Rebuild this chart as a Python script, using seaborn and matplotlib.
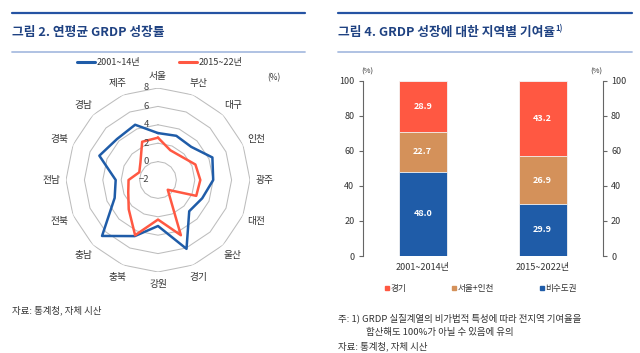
import numpy as np
import pandas as pd
import matplotlib
matplotlib.use('Agg')
import matplotlib.pyplot as plt
import seaborn as sns
from matplotlib.patches import Patch
from matplotlib.lines import Line2D

# ---------------- data ----------------
regions = ['서울', '부산', '대구', '인천', '광주', '대전', '울산', '경기',
           '강원', '충북', '충남', '전북', '전남', '경북', '경남', '제주']
growth_2001_14 = [3.1, 3.2, 3.1, 4.4, 4.0, 3.2, 2.8, 6.1, 3.0, 4.6, 6.6, 3.1, 2.6, 4.9, 4.3, 4.5]
growth_2015_22 = [2.6, 1.5, 1.6, 2.4, 2.6, 2.5, -0.5, 4.5, 2.3, 4.5, 2.5, 1.5, 1.2, 0.2, 0.7, 2.5]
series_names = ['2001~14년', '2015~22년']
radial_ticks = [8, 6, 4, 2, 0, -2]

periods = ['2001~2014년', '2015~2022년']
non_capital = [48.0, 29.9]
seoul_incheon = [22.7, 26.9]
gyeonggi = [28.9, 43.2]
bar_names = ['경기', '서울+인천', '비수도권']
bar_ticks = [0, 20, 40, 60, 80, 100]

# ---------------- style ----------------
sns.set_theme(style='white')
plt.rcParams['font.family'] = ['Noto Sans CJK KR', 'DejaVu Sans']
plt.rcParams['axes.unicode_minus'] = True

BLUE = '#1f5ca8'
RED = '#ff5842'
TAN = '#d4915a'
NAVY = '#1f4282'
TXT = '#333333'

W, H = 640, 353
fig = plt.figure(figsize=(W / 100, H / 100), dpi=100)


def fx(px):
    return px / W


def fy(py):
    return 1 - py / H


# header lines
for x0, x1 in [(12, 305), (338, 632)]:
    fig.add_artist(Line2D([fx(x0), fx(x1)], [fy(12.7), fy(12.7)], color='#2553a3', lw=1.6))
    fig.add_artist(Line2D([fx(x0), fx(x1)], [fy(51.7), fy(51.7)], color='#a9bde0', lw=1.3))

fig.text(fx(12), fy(32.5), '그림 2. 연평균 GRDP 성장률', fontsize=9.2, fontweight='bold',
         color=NAVY, ha='left', va='center')
t4 = fig.text(fx(338), fy(32.5), '그림 4. GRDP 성장에 대한 지역별 기여율', fontsize=9.2,
              fontweight='bold', color=NAVY, ha='left', va='center')

# ---------------- radar ----------------
cx, cy, R = 158, 180, 92
axr = fig.add_axes([fx(cx - R), fy(cy + R), 2 * R / W, 2 * R / H], projection='polar')
axr.set_theta_zero_location('N')
axr.set_theta_direction(-1)
n = len(regions)
theta = np.arange(n) * 2 * np.pi / n
theta_c = np.append(theta, theta[0])
for rv in radial_ticks:
    if rv > -2:
        axr.plot(theta_c, np.full(n + 1, rv), color='#bdbdbd', lw=0.75, zorder=1)

rdf = pd.DataFrame({
    'theta': np.concatenate([theta_c, theta_c]),
    'value': growth_2001_14 + [growth_2001_14[0]] + growth_2015_22 + [growth_2015_22[0]],
    'series': [series_names[0]] * (n + 1) + [series_names[1]] * (n + 1),
})
sns.lineplot(data=rdf, x='theta', y='value', hue='series', sort=False, estimator=None,
             palette=[BLUE, RED], lw=1.8, ax=axr, legend=False, zorder=3)
axr.set_ylim(-2, 8)
axr.grid(False)
axr.set_xticks([])
axr.set_yticks([])
axr.set_xlabel('')
axr.set_ylabel('')
axr.spines['polar'].set_visible(False)
axr.patch.set_alpha(0)

for th, name in zip(theta, regions):
    rr = 9.25 + 0.35 * abs(np.sin(th))
    axr.text(th, rr, name, ha='center', va='center', fontsize=7, color=TXT, clip_on=False)
for rv in radial_ticks:
    axr.annotate(f'{rv}'.replace('-', '−'), xy=(0, rv), xytext=(-6.5, 0), textcoords='offset points',
                 ha='right', va='center', fontsize=6.8, color='#444444', zorder=4)

fig.text(fx(274), fy(78), '(%)', fontsize=6, color=TXT, ha='center', va='center')

leg1 = fig.legend(handles=[Line2D([], [], color=BLUE, lw=2.2), Line2D([], [], color=RED, lw=2.2)],
                  labels=series_names, loc='center', bbox_to_anchor=(fx(160), fy(63)), ncol=2,
                  frameon=False, fontsize=6.5, handlelength=2.0, handletextpad=0.15,
                  columnspacing=4.3, borderpad=0)
for t in leg1.get_texts():
    t.set_color(TXT)

fig.text(fx(12), fy(310), '자료: 통계청, 자체 시산', fontsize=6.8, color=TXT, ha='left', va='center')

# ---------------- stacked bars ----------------
axb = fig.add_axes([fx(362.7), fy(256), 240 / W, (256 - 80.7) / H])
bdf = pd.DataFrame({'period': periods, 'non': non_capital, 'si': seoul_incheon, 'gg': gyeonggi})
bdf['mid'] = bdf['non'] + bdf['si']
bdf['top'] = bdf['mid'] + bdf['gg']
for col, c in [('top', RED), ('mid', TAN), ('non', BLUE)]:
    sns.barplot(data=bdf, x='period', y=col, color=c, width=0.4, saturation=1,
                edgecolor='#f4f4f4', linewidth=0.6, ax=axb)

for i in range(len(periods)):
    bottoms = [0, non_capital[i], non_capital[i] + seoul_incheon[i]]
    vals = [non_capital[i], seoul_incheon[i], gyeonggi[i]]
    for b, v in zip(bottoms, vals):
        axb.text(i, b + v / 2, f'{v:.1f}', ha='center', va='center', color='white',
                 fontsize=6.5, fontweight='bold')

axb.set_xlim(-0.5, 1.5)
axb.set_ylim(0, 100)
axb.set_yticks(bar_ticks)
axb.set_xlabel('')
axb.set_ylabel('')
for s in ['top', 'bottom', 'right']:
    axb.spines[s].set_visible(False)
axb.spines['left'].set_color('#666666')
axb.spines['left'].set_linewidth(0.8)
axb.tick_params(axis='y', left=True, length=3, width=0.8, color='#666666', labelsize=6.5,
                labelcolor=TXT, pad=3)
axb.tick_params(axis='x', length=0, labelsize=6.5, labelcolor=TXT, pad=5)

axb2 = axb.twinx()
axb2.set_ylim(0, 100)
axb2.set_yticks(bar_ticks)
for s in ['top', 'bottom', 'left']:
    axb2.spines[s].set_visible(False)
axb2.spines['right'].set_color('#666666')
axb2.spines['right'].set_linewidth(0.8)
axb2.tick_params(axis='y', right=True, length=3, width=0.8, color='#666666', labelsize=6.5,
                 labelcolor=TXT, pad=3)
axb2.grid(False)
axb.grid(False)

fig.text(fx(367), fy(71.5), '(%)', fontsize=5.5, color=TXT, ha='center', va='center')
fig.text(fx(596), fy(71.5), '(%)', fontsize=5.5, color=TXT, ha='center', va='center')

leg2 = fig.legend(handles=[Patch(color=RED), Patch(color=TAN), Patch(color=BLUE)], labels=bar_names,
                  loc='center', bbox_to_anchor=(fx(481), fy(288.5)), ncol=3, frameon=False,
                  fontsize=6.2, handlelength=0.45, handleheight=0.45, handletextpad=0.2,
                  columnspacing=5.3, borderpad=0)
for t in leg2.get_texts():
    t.set_color(TXT)

fig.text(fx(338), fy(318.5), '주: 1) GRDP 실질계열의 비가법적 특성에 따라 전지역 기여율을',
         fontsize=6.8, color=TXT, ha='left', va='center')
fig.text(fx(366.5), fy(332.5), '합산해도 100%가 아닐 수 있음에 유의', fontsize=6.8, color=TXT,
         ha='left', va='center')
fig.text(fx(338), fy(346), '자료: 통계청, 자체 시산', fontsize=6.8, color=TXT, ha='left', va='center')

# superscript after title 4
fig.canvas.draw()
bb = t4.get_window_extent(renderer=fig.canvas.get_renderer())
fig.text(bb.x1 / W + 0.001, fy(28.5), '1)', fontsize=5.5, fontweight='bold', color=NAVY,
         ha='left', va='center')

fig.savefig('out.png', dpi=100)
